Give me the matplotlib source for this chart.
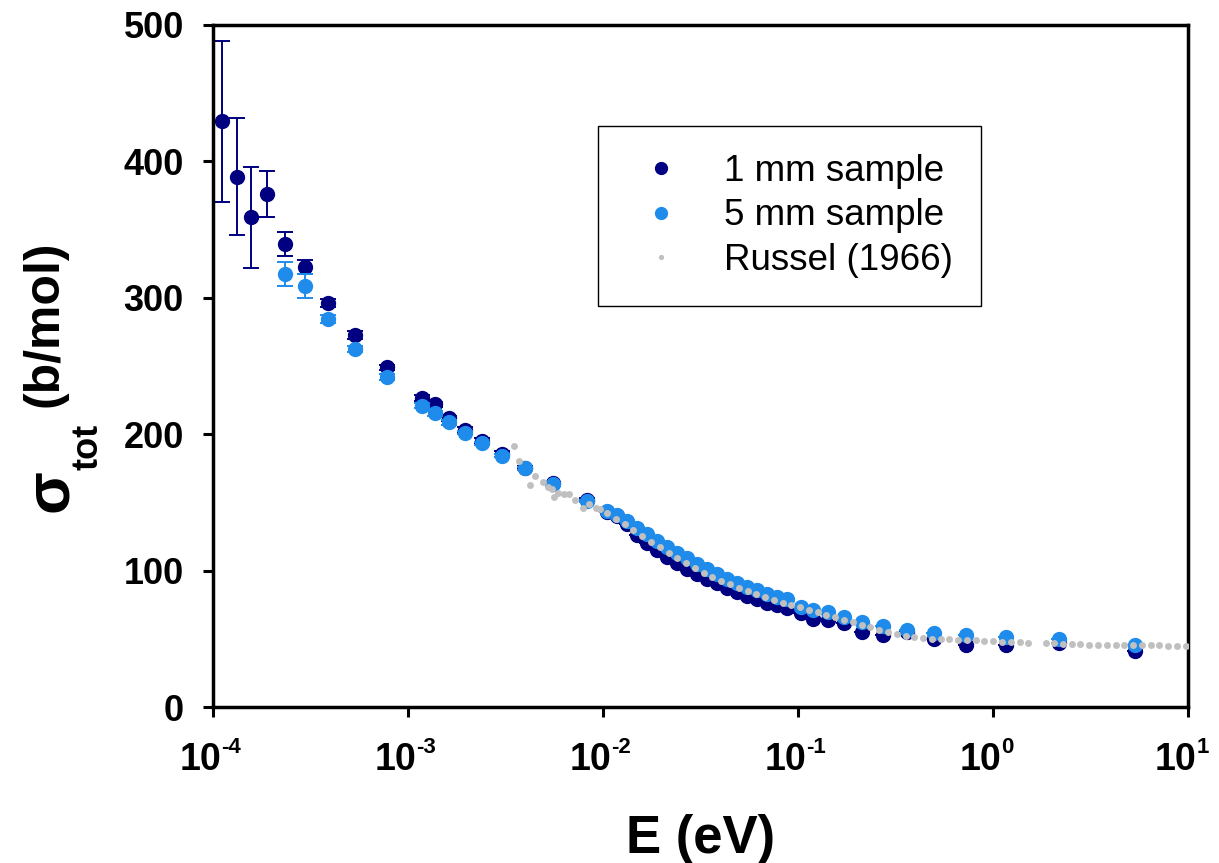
import matplotlib
matplotlib.use("Agg")
import matplotlib.pyplot as plt
from matplotlib.lines import Line2D
from matplotlib.ticker import FixedLocator, NullLocator, NullFormatter
from matplotlib.transforms import blended_transform_factory, offset_copy

plt.rcParams['font.family'] = 'Liberation Sans'

# 1 mm sample
e_1mm = [1.11e-4, 1.32e-4, 1.56e-4, 1.89e-4, 2.33e-4, 2.96e-4, 3.90e-4, 5.35e-4,
         7.78e-4, 1.175e-3, 1.377e-3, 1.63e-3, 1.96e-3, 2.41e-3, 3.05e-3, 3.96e-3,
         5.55e-3, 8.28e-3,
         0.0105, 0.0118, 0.0133, 0.0149, 0.0168, 0.0189, 0.0212, 0.0239, 0.0269,
         0.0302, 0.034, 0.0383, 0.0431, 0.0485, 0.0546, 0.0614, 0.0691, 0.0778, 0.0875,
         0.1035, 0.1197, 0.143, 0.173, 0.214, 0.274, 0.361, 0.496, 0.73, 1.17, 2.18, 5.35]
s_1mm = [429.6, 388.7, 359.0, 376.0, 339.4, 322.7, 296.4, 272.7,
         249.0, 226.7, 221.9, 211.6, 203.0, 195.2, 185.5, 175.5,
         164.0, 152.0,
         143.0, 140.0, 134.0, 126.0, 120.5, 115.0, 110.0, 105.5, 101.5,
         97.5, 94.0, 91.0, 87.5, 84.5, 81.5, 79.0, 76.5, 74.5, 72.5,
         68.7, 64.3, 63.8, 61.8, 55.2, 52.8, 55.0, 49.5, 45.4, 45.4, 46.7, 41.0]
err_1mm = [59, 43, 37, 17, 9, 5, 3, 3,
           2, 2, 2, 2, 2, 2, 2, 1,
           1, 1,
           0, 0, 0, 0, 0, 0, 0, 0, 0,
           0, 0, 0, 0, 0, 0, 0, 0, 0, 0,
           0, 0, 0, 0, 0, 0, 0, 0, 0, 0, 0, 0]

# 5 mm sample
e_5mm = [2.33e-4, 2.96e-4, 3.90e-4, 5.35e-4,
         7.78e-4, 1.175e-3, 1.377e-3, 1.63e-3, 1.96e-3, 2.41e-3, 3.05e-3, 3.96e-3,
         5.55e-3, 8.28e-3,
         0.0105, 0.0118, 0.0133, 0.0149, 0.0168, 0.0189, 0.0212, 0.0239, 0.0269,
         0.0302, 0.034, 0.0383, 0.0431, 0.0485, 0.0546, 0.0614, 0.0691, 0.0778, 0.0875,
         0.1035, 0.1197, 0.143, 0.173, 0.214, 0.274, 0.361, 0.496, 0.73, 1.17, 2.18, 5.35]
s_5mm = [317.4, 308.8, 284.2, 262.4,
         242.0, 220.9, 215.3, 208.7, 201.0, 193.3, 184.2, 175.0,
         163.2, 151.0,
         144.0, 140.5, 136.0, 131.5, 127.0, 122.0, 117.5, 113.0, 109.0,
         105.0, 101.0, 97.5, 94.0, 91.0, 88.0, 85.5, 83.0, 81.0, 79.0,
         73.5, 71.1, 69.4, 65.8, 62.5, 59.4, 56.4, 54.0, 52.8, 51.1, 49.6, 45.4]
err_5mm = [9, 9, 3, 2,
           2, 2, 2, 2, 1, 1, 1, 1,
           1, 1,
           0, 0, 0, 0, 0, 0, 0, 0, 0,
           0, 0, 0, 0, 0, 0, 0, 0, 0, 0,
           0, 0, 0, 0, 0, 0, 0, 0, 0, 0, 0, 0]

# Russel (1966)
e_russel = [0.0035, 0.0037, 0.0042, 0.0045, 0.0049, 0.0052, 0.0055, 0.0056, 0.0059,
            0.0063, 0.0067, 0.0072, 0.0079, 0.0085, 0.0092, 0.0097,
            0.0105, 0.01165, 0.0129, 0.0143, 0.0159, 0.0176, 0.0196, 0.0217, 0.0241,
            0.0267, 0.0296, 0.0328, 0.0364, 0.0404, 0.0448, 0.0497, 0.0551, 0.0611,
            0.0678, 0.0752, 0.0834, 0.0925, 0.1026, 0.1138, 0.1262, 0.140, 0.155,
            0.172, 0.191, 0.212, 0.235, 0.261, 0.289, 0.321, 0.356, 0.395, 0.438,
            0.485, 0.538, 0.597, 0.662, 0.734, 0.814, 0.903, 1.00, 1.11, 1.23, 1.37,
            1.52, 1.86, 2.06, 2.29, 2.54, 2.81, 3.12, 3.46, 3.84, 4.26, 4.72, 5.24,
            5.81, 6.44, 7.14, 7.92, 8.79, 9.75]
s_russel = [191, 180, 163, 169, 165, 161, 160, 154, 157,
            156, 156, 152, 146, 149, 146, 145,
            142, 138, 134, 129.5, 125.5, 121, 117, 113, 109,
            105.5, 102, 98.5, 95.5, 92.5, 90, 87.5, 85, 82.5,
            80.5, 78.5, 76.5, 74.5, 73, 71, 69.5, 67.5, 66,
            64, 62, 60, 58.5, 56.5, 55, 53.5, 52, 51.2, 50.5,
            50, 49.8, 49.5, 49.3, 49, 48.8, 48.5, 48.3, 48, 47.8, 47.5,
            47.2, 46.8, 46.6, 46.4, 46.2, 46, 45.8, 45.7, 45.6, 45.5, 45.4, 45.3,
            45.2, 45.2, 45.1, 45, 44.9, 44.8]

decades = [-4, -3, -2, -1, 0, 1]

navy = "#000080"
light = "#1f8ceb"
grey = "#c0c0c0"

fig = plt.figure(figsize=(12.19, 8.63), dpi=100)
ax = fig.add_axes([213 / 1219, 1 - 707 / 863, 975 / 1219, 682 / 863])

ax.errorbar(e_1mm, s_1mm, yerr=err_1mm, fmt="o", color=navy, ms=10,
            elinewidth=1.4, capsize=6, capthick=1.4, zorder=2)
ax.errorbar(e_5mm, s_5mm, yerr=err_5mm, fmt="o", color=light, ms=10,
            elinewidth=1.4, capsize=6, capthick=1.4, zorder=3)
ax.plot(e_russel, s_russel, "o", color=grey, ms=5, mew=0, zorder=4)

ax.set_xscale("log")
ax.set_xlim(1e-4, 1e1)
ax.set_ylim(0, 500)
ax.xaxis.set_major_locator(FixedLocator([10.0 ** k for k in decades]))
ax.xaxis.set_minor_locator(NullLocator())
ax.xaxis.set_major_formatter(NullFormatter())
ax.set_yticks([0, 100, 200, 300, 400, 500])

for sp in ax.spines.values():
    sp.set_linewidth(2.5)
ax.tick_params(direction="out", length=7, width=2.2, labelsize=26)
ax.tick_params(axis="y", pad=14)
for lab in ax.get_yticklabels():
    lab.set_fontweight("bold")

# x tick labels: "10" with a small superscript exponent
trans = blended_transform_factory(ax.transData, ax.transAxes)
for k in decades:
    ax.text(10.0 ** k, -0.0924, "10", fontsize=27, fontweight="bold",
            ha="right", va="baseline",
            transform=offset_copy(trans, fig, x=6, y=0, units="points"))
    ax.text(10.0 ** k, -0.0674, "%d" % k, fontsize=16, fontweight="bold",
            ha="left", va="baseline",
            transform=offset_copy(trans, fig, x=6, y=0, units="points"))

fig.text(0.5743, 1 - 853 / 863, "E (eV)", fontsize=38, fontweight="bold",
         ha="center", va="baseline")

# y label in pieces: sigma, subscript, unit
fig.text(57 / 1219, 1 - 324 / 863, "(b/mol)", fontsize=36, fontweight="bold",
         rotation=90, ha="center", va="baseline", rotation_mode="anchor")
fig.text(67 / 1219, 1 - 491 / 863, "σ", fontsize=45, fontweight="bold",
         rotation=90, ha="center", va="baseline", rotation_mode="anchor")
fig.text(97 / 1219, 1 - 447 / 863, "tot", fontsize=26, fontweight="bold",
         rotation=90, ha="center", va="baseline", rotation_mode="anchor")

handles = [
    Line2D([], [], ls="none", marker="o", color=navy, ms=8.5),
    Line2D([], [], ls="none", marker="o", color=light, ms=8.5),
    Line2D([], [], ls="none", marker="o", color=grey, ms=3.8, mew=0),
]
leg = ax.legend(handles, ["1 mm sample", "5 mm sample", "Russel (1966)"],
                loc="upper left", bbox_to_anchor=(0.395, 0.852), fontsize=26.5,
                frameon=True, fancybox=False, edgecolor="black", framealpha=1,
                borderpad=0.76, handlelength=1.92, handletextpad=0.74,
                labelspacing=0.26, borderaxespad=0)
leg.get_frame().set_linewidth(1.0)

fig.savefig("out.png", dpi=100)
